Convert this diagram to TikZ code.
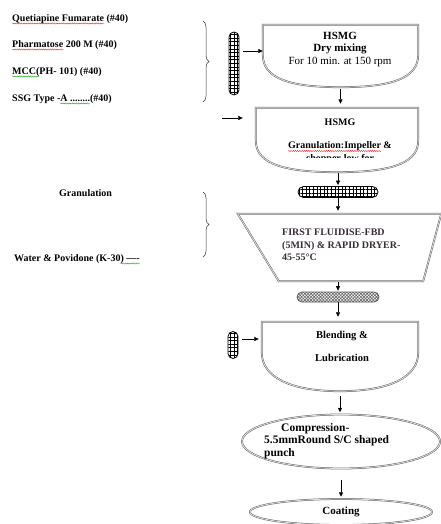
\documentclass[tikz,border=0pt]{standalone}
\usepackage{fontspec}
\setmainfont{Liberation Serif}
\usetikzlibrary{arrows.meta,patterns.meta,decorations.pathreplacing,decorations.pathmorphing,shapes.geometric}

\definecolor{drytext}{RGB}{55,45,55}

% wavy spell-check line under a piece of text
\newsavebox\wavebox
\newlength\wavewd
\newcommand\wavy[2]{\sbox\wavebox{#2}\setlength\wavewd{\wd\wavebox}%
  \leavevmode\rlap{\tikz[overlay]\draw[#1,line width=0.3pt,decorate,decoration={snake,amplitude=0.6pt,segment length=2.2pt}] (0pt,-2pt) -- (\the\wavewd,-2pt);}%
  \usebox\wavebox}

% bowl shaped vessel drawn round a box node
\newcommand\bowl[2]{\draw[border] (#1.north west) -- ([yshift=-#2]#1.north west)
  .. controls +(0,24) and +(-50,0) .. (#1.south)
  .. controls +(50,0) and +(0,24) .. ([yshift=-#2]#1.north east) -- (#1.north east) -- cycle;}

\begin{document}
\begin{tikzpicture}[x=1pt,y=-1pt,
  font=\fontsize{10}{12.5}\selectfont\bfseries,
  txt/.style={inner sep=0pt},
  box/.style={rectangle,inner sep=0pt},
  border/.style={draw=gray!80!black,double=gray!25,double distance=0.8pt,line width=0.5pt},
  gridoval/.style={draw,line width=0.8pt,inner sep=0pt,pattern={Hatch[distance=3.6pt,line width=0.5pt]}},
  dotoval/.style={draw=gray!70!black,line width=0.8pt,inner sep=0pt,pattern color=gray!80!black,pattern={Hatch[angle=45,distance=2.2pt,line width=0.6pt]}},
  arr/.style={-{Triangle[length=4.5pt,width=4pt]},line width=0.7pt},
  brc/.style={decorate,decoration={brace,amplitude=6pt},line width=0.5pt,draw=gray!40!black}]
  \useasboundingbox[fill=white] (0,0) rectangle (441,524);

  % ingredients
  \node[txt,anchor=base west] (api) at (12,21.5) {\wavy{red}{Quetiapine Fumarate} (\#40)};
  \node[txt,anchor=base west] (pharm) at (12,47.5) {\wavy{red}{Pharmatose} 200 M (\#40)};
  \node[txt,anchor=base west] (mcc) at (12,74.5) {\wavy{green!60!black}{MCC(}PH- 101) (\#40)};
  \node[txt,anchor=base west] (ssg) at (12,101.5) {SSG Type -\wavy{green!60!black}{A ........}(\#40)};
  \node[txt,anchor=base west] (granlbl) at (59,196.5) {Granulation};
  \node[txt,anchor=base west] (binder) at (14,261.5) {Water \& Povidone (K-30\wavy{green!60!black}{) ----}};

  \coordinate (br1a) at (203,21);
  \coordinate (br1b) at (203,102);
  \coordinate (br2a) at (203,192);
  \coordinate (br2b) at (203,257);
  \draw[brc] (br1a) -- (br1b);
  \draw[brc] (br2a) -- (br2b);

  % vessels
  \node[box,minimum width=155,minimum height=62] (mix) at (340.5,56) {};
  \bowl{mix}{30pt}
  \node[txt,align=center,font=\fontsize{11}{12.5}\selectfont\bfseries] (mixtxt) at (340,49.5) {HSMG\\Dry mixing\\{\mdseries For 10 min. at 150 rpm}};

  \node[box,minimum width=162,minimum height=64] (gran) at (337,140) {};
  \bowl{gran}{33pt}
  \begin{scope}
    \clip (gran.north west) rectangle ([yshift=-50pt]gran.north east);
    \node[txt,align=center] (grantxt) at (340,141.5) {HSMG\\[10.5pt]\wavy{red}{Granulation:Impeller} \&\\chopper-low for};
  \end{scope}

  \node[gridoval,rounded corners=5pt,minimum width=10,minimum height=63] (sieve1) at (234,63.5) {};
  \node[gridoval,rounded corners=5.5pt,minimum width=80,minimum height=11] (sieve2) at (338,192) {};

  \node[box,minimum width=144,minimum height=67] (dry) at (351,247.5) {};
  \draw[border] ([xshift=-41pt]dry.north west) -- ([xshift=18pt]dry.north east) -- (dry.south east) -- (dry.south west) -- cycle;
  \node[txt,align=left,anchor=west,text=drytext] (drytxt) at (282,245) {FIRST FLUIDISE-FBD\\(5MIN) \& RAPID DRYER-\\45-55°C};

  \node[dotoval,rounded corners=5pt,minimum width=82,minimum height=10] (sieve3) at (338,297) {};

  \node[box,minimum width=156,minimum height=69] (blend) at (340,356.5) {};
  \bowl{blend}{31pt}
  \node[txt,align=center,font=\fontsize{10.5}{12.5}\selectfont\bfseries] (blendtxt) at (342,346.5) {Blending \&\\[10.5pt]Lubrication};
  \node[gridoval,rounded corners=5pt,minimum width=10,minimum height=27] (sieve4) at (233,345) {};

  \node[border,ellipse,inner sep=0pt,minimum width=198,minimum height=54] (comp) at (341,441.5) {};
  \node[txt,align=left,anchor=west,font=\fontsize{11.5}{12.5}\selectfont\bfseries] (comptxt) at (264,441) {\hspace*{17pt}Compression-\\5.5mmRound S/C shaped\\punch};

  \node[border,ellipse,inner sep=0pt,minimum width=182,minimum height=26,font=\fontsize{11}{12.5}\selectfont\bfseries] (coat) at (341,512) {Coating};

  % flow
  \path ([shift={(4,-12.5)}]sieve1.east) coordinate (s1out);
  \draw[arr] (s1out) -- (s1out -| mix.west);
  \draw[arr,shorten <=2pt,shorten >=4pt] (mix.south) -- (mix.south |- gran.north);
  \coordinate (wet) at (222,118);
  \draw[arr,shorten >=13pt] (wet) -- (wet -| gran.west);
  \draw[arr,shorten <=1pt,shorten >=1pt] (sieve2 |- gran.south) -- (sieve2.north);
  \draw[arr,shorten >=3pt] (sieve2.south) -- (sieve2.south |- dry.north);
  \draw[arr,shorten <=1pt,shorten >=1pt] (sieve3 |- dry.south) -- (sieve3.north);
  \draw[arr,shorten >=5pt] (sieve3.south) -- (sieve3.south |- blend.north);
  \path ([shift={(4,-6)}]sieve4.east) coordinate (s4out);
  \draw[arr,shorten >=3pt] (s4out) -- (s4out -| blend.west);
  \draw[arr,shorten <=5pt,shorten >=2pt] (blend.south) -- (blend.south |- comp.north);
  \draw[arr,shorten <=11pt,shorten >=2pt] (comp.south) -- (comp.south |- coat.north);
\end{tikzpicture}
\end{document}
